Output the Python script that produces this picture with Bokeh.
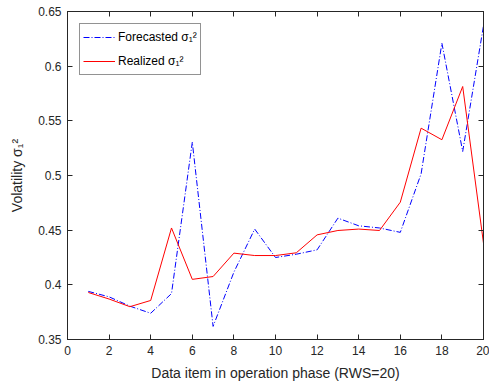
from bokeh.plotting import figure
from bokeh.models import Range1d, LinearAxis, FixedTicker, Legend, LegendItem, NumeralTickFormatter
from bokeh.embed import file_html
from bokeh.resources import INLINE

# Data
items = list(range(1, 21))
forecasted = [0.394, 0.389, 0.3805, 0.374, 0.392, 0.5305, 0.362, 0.4116, 0.451, 0.425,
              0.428, 0.432, 0.461, 0.454, 0.452, 0.448, 0.5015, 0.621, 0.522, 0.637]
realized = [0.393, 0.387, 0.380, 0.3857, 0.452, 0.405, 0.4076, 0.429, 0.4268, 0.4268,
            0.4293, 0.4457, 0.4497, 0.451, 0.4497, 0.4756, 0.5433, 0.5327, 0.5814, 0.438]
x_ticks = list(range(0, 21, 2))
y_ticks = [0.35, 0.4, 0.45, 0.5, 0.55, 0.6, 0.65]

FONT = "Liberation Sans"
DARK = "#262626"

p = figure(width=489, height=386, output_backend="svg", toolbar_location=None,
           x_range=Range1d(0, 20), y_range=Range1d(0.35, 0.65),
           min_border_left=67, min_border_right=6, min_border_top=11, min_border_bottom=47)
p.grid.visible = False
p.outline_line_color = DARK
p.background_fill_color = "white"
p.border_fill_color = "white"

def style_axis(ax, show_labels=True):
    ax.axis_line_color = DARK
    ax.major_tick_line_color = DARK
    ax.major_tick_in = 5
    ax.major_tick_out = 0
    ax.minor_tick_line_color = None
    ax.major_label_text_font = FONT
    ax.major_label_text_font_size = "12px" if show_labels else "1px"
    ax.major_label_text_color = DARK if show_labels else None
    ax.axis_label_text_font = FONT
    ax.axis_label_text_font_style = "normal"
    ax.axis_label_text_font_size = "14px"
    ax.axis_label_text_color = DARK

xax = p.xaxis[0]
yax = p.yaxis[0]
xax.ticker = FixedTicker(ticks=x_ticks)
yax.ticker = FixedTicker(ticks=y_ticks)
yax.formatter = NumeralTickFormatter(format="0.[00]")
style_axis(xax)
style_axis(yax)
xax.axis_label = "Data item in operation phase (RWS=20)"
yax.axis_label = "Volatility σ₁²"
xax.major_label_standoff = 6
yax.major_label_standoff = 6
xax.axis_label_standoff = 7
yax.axis_label_standoff = 10

top = LinearAxis(ticker=FixedTicker(ticks=x_ticks))
right = LinearAxis(ticker=FixedTicker(ticks=y_ticks))
for ax in (top, right):
    style_axis(ax, show_labels=False)
    ax.major_label_standoff = 0
p.add_layout(top, "above")
p.add_layout(right, "right")

r1 = p.line(items, forecasted, line_color="#0000FF", line_width=1, line_dash="6 2 1 2")
r2 = p.line(items, realized, line_color="#FF0000", line_width=1)

legend = Legend(items=[LegendItem(label="Forecasted σ₁²", renderers=[r1]),
                       LegendItem(label="Realized σ₁²", renderers=[r2])],
                location="top_left")
legend.margin = 12
legend.padding = 3
legend.spacing = 4
legend.glyph_width = 32
legend.glyph_height = 20
legend.label_height = 20
legend.label_standoff = 3
legend.label_text_font = FONT
legend.label_text_font_size = "12px"
legend.label_text_color = "black"
legend.border_line_color = DARK
legend.border_line_width = 1
legend.background_fill_color = "white"
p.add_layout(legend, "center")

open("out.html", "w").write(file_html(p, INLINE))
